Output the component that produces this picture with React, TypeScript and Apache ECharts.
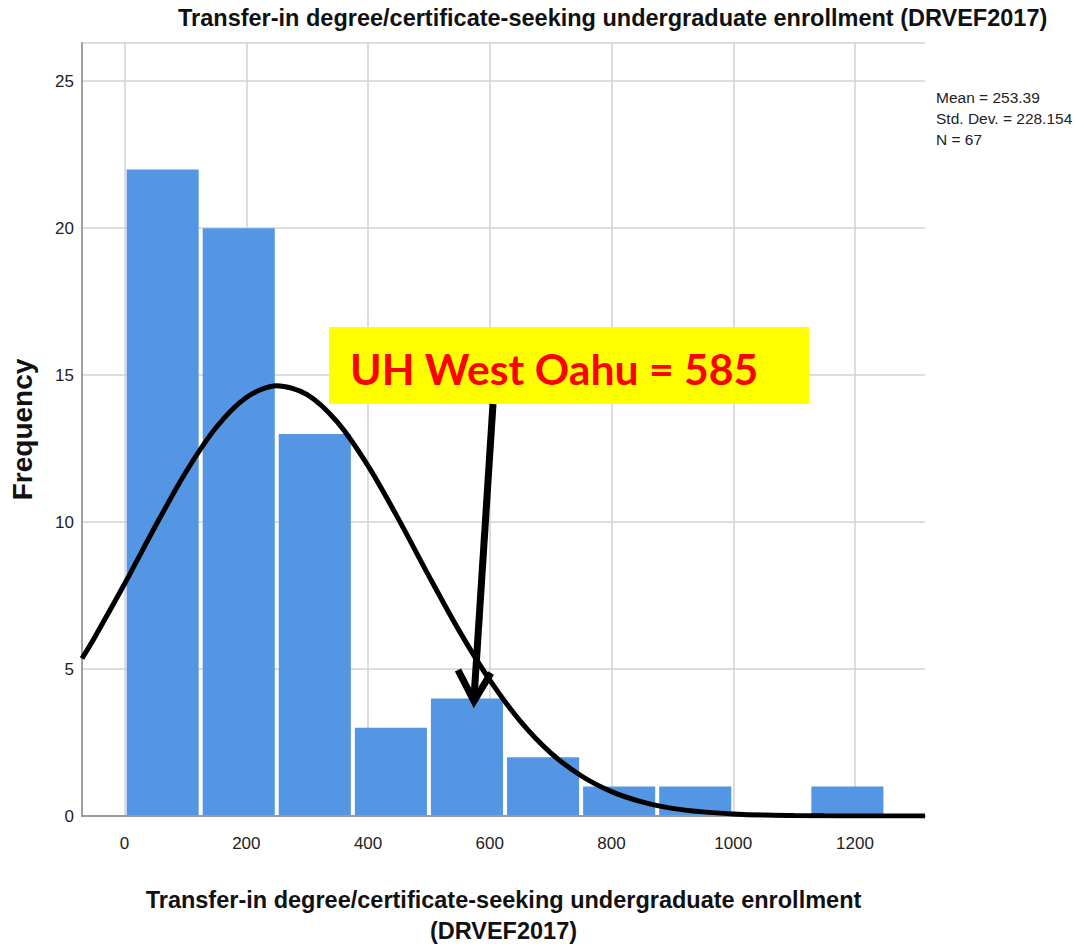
import React, { useEffect, useRef } from 'react';
import * as echarts from 'echarts';

// ---- data ----
const binEdges = [0, 125, 250, 375, 500, 625, 750, 875, 1000, 1125, 1250];
const counts = [22, 20, 13, 3, 4, 2, 1, 1, 0, 1];
const xTicks = [0, 200, 400, 600, 800, 1000, 1200];
const curveX = [-70, -50, 0, 50, 100, 150, 200, 250, 300, 350, 400, 450, 500, 550, 600, 650, 700, 750, 800, 850, 900, 950, 1000, 1050, 1100, 1150, 1200, 1250, 1315];
const curveY = [5.36, 6.05, 7.9, 9.84, 11.68, 13.21, 14.24, 14.64, 14.34, 13.39, 11.91, 10.1, 8.16, 6.29, 4.62, 3.23, 2.15, 1.37, 0.83, 0.48, 0.26, 0.14, 0.07, 0.03, 0.015, 0.006, 0.003, 0.001, 0];
const statsLines = ['Mean = 253.39', 'Std. Dev. = 228.154', 'N = 67'];
const titleText = 'Transfer-in degree/certificate-seeking undergraduate enrollment (DRVEF2017)';
const xAxisName = 'Transfer-in degree/certificate-seeking undergraduate enrollment\n(DRVEF2017)';
const yAxisName = 'Frequency';
const annotationText = 'UH West Oahu = 585';

const SANS = "'Liberation Sans', Arial, sans-serif";

export default function App() {
  const ref = useRef<HTMLDivElement>(null);
  useEffect(() => {
    if (!ref.current) return;
    const chart = echarts.init(ref.current, undefined, { renderer: 'svg' });
    const histData = counts.map((c, i) => [binEdges[i], binEdges[i + 1], c]);
    const curveData = curveX.map((x, i) => [x, curveY[i]]);
    chart.setOption({
      animation: false,
      backgroundColor: '#ffffff',
      title: [
        {
          text: titleText,
          left: 178,
          top: 6,
          padding: 0,
          textStyle: { fontFamily: SANS, fontSize: 23.5, fontWeight: 'bold', color: '#111', lineHeight: 24 },
        },
        {
          text: statsLines.join('\n'),
          left: 936,
          top: 87,
          padding: 0,
          textStyle: { fontFamily: SANS, fontSize: 15.5, fontWeight: 'normal', color: '#222', lineHeight: 21 },
        },
      ],
      grid: { left: 82, top: 43, right: 151, bottom: 131, containLabel: false, outerBoundsMode: 'none' },
      xAxis: {
        type: 'value',
        min: -70,
        max: 1315,
        name: xAxisName,
        nameLocation: 'middle',
        nameGap: 68,
        nameTextStyle: { fontFamily: SANS, fontSize: 23.5, fontWeight: 'bold', color: '#111', lineHeight: 31 },
        axisLine: { show: true, onZero: false, lineStyle: { color: '#9a9a9a', width: 2 } },
        axisTick: { show: false, customValues: xTicks },
        axisLabel: {
          customValues: xTicks,
          fontFamily: SANS,
          fontSize: 17,
          color: '#222',
          margin: 19,
          formatter: (v: number) => String(v),
        },
        splitLine: { show: true, lineStyle: { color: '#d2d2d2', width: 1.5 } },
      },
      yAxis: {
        type: 'value',
        min: 0,
        max: 26.3,
        interval: 5,
        name: yAxisName,
        nameLocation: 'middle',
        nameGap: 46,
        nameRotate: 90,
        nameTextStyle: { fontFamily: SANS, fontSize: 28, fontWeight: 'bold', color: '#111' },
        axisLine: { show: true, onZero: false, lineStyle: { color: '#a0a0a0', width: 2 } },
        axisTick: { show: false },
        axisLabel: {
          fontFamily: SANS,
          fontSize: 17,
          color: '#222',
          margin: 8,
          formatter: (v: number) => (v > 25 ? '' : String(v)),
        },
        splitLine: { show: true, lineStyle: { color: '#d2d2d2', width: 1.5 } },
      },
      series: [
        {
          type: 'custom',
          name: 'Histogram',
          data: histData,
          encode: { x: [0, 1], y: 2 },
          z: 2,
          renderItem: (params: any, api: any) => {
            const x0 = api.value(0);
            const x1 = api.value(1);
            const c = api.value(2);
            if (!c) return null;
            const p0 = api.coord([x0, c]);
            const p1 = api.coord([x1, 0]);
            return {
              type: 'rect',
              shape: { x: p0[0] + 2, y: p0[1], width: p1[0] - p0[0] - 4, height: p1[1] - p0[1] - 1 },
              style: { fill: '#5596e4', stroke: null },
            };
          },
        },
        {
          type: 'line',
          name: 'Normal',
          data: curveData,
          smooth: 0.3,
          showSymbol: false,
          symbol: 'none',
          clip: true,
          z: 3,
          lineStyle: { color: '#000', width: 5 },
        },
      ],
      graphic: [
        {
          type: 'rect',
          z: 100,
          shape: { x: 329, y: 327, width: 480, height: 77 },
          style: { fill: '#ffff00' },
        },
        {
          type: 'text',
          z: 101,
          x: 350,
          y: 368,
          style: {
            text: annotationText,
            fill: '#ff0000',
            fontFamily: "Lato, 'Open Sans', sans-serif",
            fontSize: 42.7,
            fontWeight: 'bold',
            verticalAlign: 'middle',
            align: 'left',
          },
        },
        {
          type: 'line',
          z: 101,
          shape: { x1: 493, y1: 404, x2: 474, y2: 698 },
          style: { stroke: '#000', lineWidth: 7 },
        },
        {
          type: 'polyline',
          z: 101,
          shape: { points: [[458, 670], [474, 701], [491, 673]] },
          style: { stroke: '#000', lineWidth: 7, lineJoin: 'miter', fill: null },
        },
      ],
    });
    return () => chart.dispose();
  }, []);
  return <div ref={ref} style={{ position: 'absolute', left: 0, top: 0, width: 1076, height: 947 }} />;
}
